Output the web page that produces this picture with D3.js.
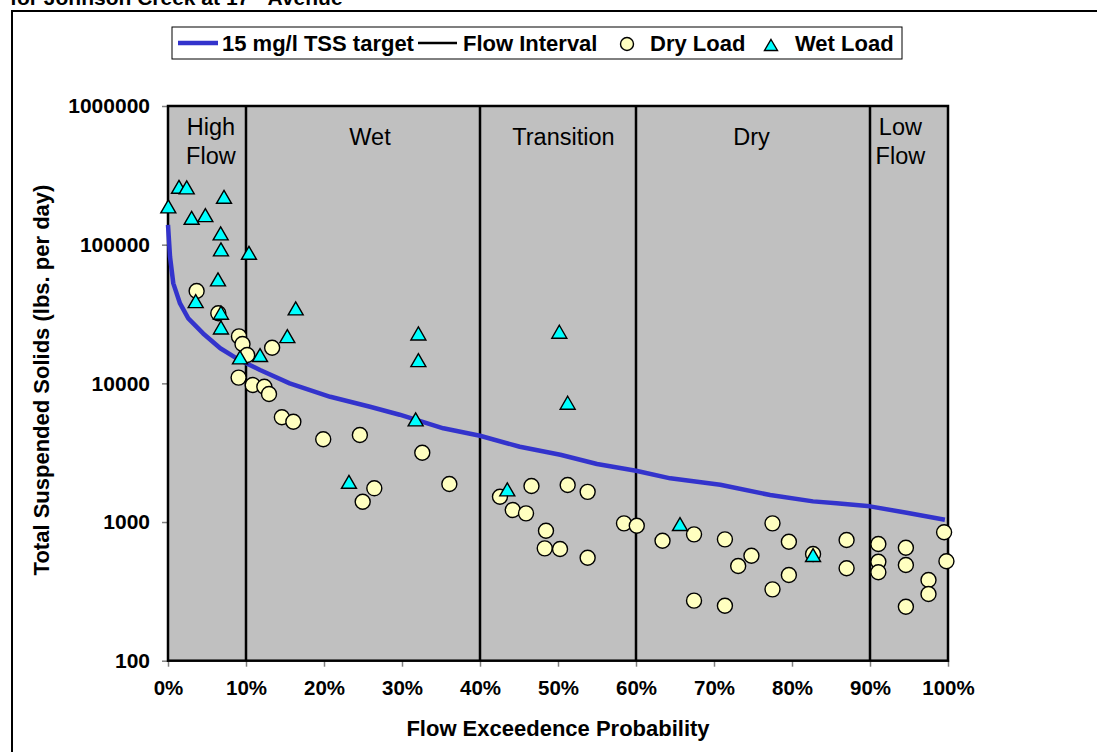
<!DOCTYPE html>
<html>
<head>
<meta charset="utf-8">
<script src="https://cdn.jsdelivr.net/npm/d3@7"></script>
<style>
  html, body { margin: 0; padding: 0; background: #fff; }
  svg { display: block; font-family: Arial, "Liberation Sans", sans-serif; }
</style>
</head>
<body>
<svg id="chart" width="1097" height="752"></svg>
<script>
// ---- Data ----
const targetPct  = [0, 0.26, 0.68, 1.54, 2.6, 4.5, 6.7, 8.8, 10.1, 11.8, 15.6, 20.8, 25.9, 29.7, 35.3, 40, 45.1, 50.3, 55, 60, 64.4, 70.8, 77.2, 82.7, 85.7, 90, 94.7, 99.6];
const targetLoad = [139000, 81800, 52600, 37700, 29400, 22900, 17900, 15150, 13900, 12470, 10000, 8000, 6780, 5940, 4740, 4190, 3490, 3055, 2620, 2345, 2065, 1858, 1565, 1409, 1364, 1297, 1167, 1040];

const dryPct  = [3.67, 6.45, 9.1, 9.55, 10.15, 13.35, 9.05, 10.86, 12.35, 12.95, 14.6, 16.07, 19.9, 24.6, 32.6, 26.45, 24.96, 36.07, 42.56, 44.2, 45.9, 46.6, 51.24, 53.8, 48.46, 48.3, 50.26, 53.8, 58.46, 60.1, 63.4, 67.44, 67.44, 71.4, 71.4, 73.1, 74.8, 77.5, 77.5, 79.6, 79.6, 82.7, 87.0, 87.0, 91.07, 91.07, 91.07, 94.6, 94.6, 94.6, 97.5, 97.5, 99.5, 99.8];
const dryLoad = [46300, 32000, 21800, 19200, 16000, 18070, 11000, 9720, 9450, 8370, 5690, 5290, 3950, 4240, 3160, 1750, 1400, 1880, 1520, 1220, 1155, 1820, 1850, 1650, 865, 646, 639, 553, 978, 940, 733, 815, 271, 750, 249, 482, 571, 978, 327, 721, 415, 588, 742, 464, 694, 517, 434, 653, 490, 245, 382, 303, 843, 521];

const wetPct  = [0.04, 1.41, 2.4, 7.18, 3.03, 4.79, 6.75, 6.79, 10.38, 6.41, 3.55, 6.79, 6.79, 16.37, 15.3, 11.8, 9.23, 32.1, 32.1, 31.75, 23.2, 50.17, 51.24, 43.5, 65.64, 82.7];
const wetLoad = [188800, 261400, 258900, 221500, 156300, 163400, 120600, 92500, 87400, 56200, 39200, 32300, 25300, 34700, 21900, 16000, 15400, 22900, 14700, 5500, 1950, 23550, 7245, 1720, 967, 578];

const intervalBreaks = [10, 40, 60, 90];
const regionLabels = [
  { lines: ["High", "Flow"], pct: 5.5 },
  { lines: ["Wet"], pct: 25.9 },
  { lines: ["Transition"], pct: 50.7 },
  { lines: ["Dry"], pct: 74.8 },
  { lines: ["Low", "Flow"], pct: 93.9 }
];
const yTickValues = [100, 1000, 10000, 100000, 1000000];
const xTickValues = [0, 10, 20, 30, 40, 50, 60, 70, 80, 90, 100];

const titleText = "for Johnson Creek at 17";
const titleSup = "th";
const titleRest = " Avenue";
const yTitle = "Total Suspended Solids (lbs. per day)";
const xTitle = "Flow Exceedence Probability";
const legendLabels = ["15 mg/l TSS target", "Flow Interval", "Dry Load", "Wet Load"];

// ---- Layout ----
const svg = d3.select("#chart");
const plot = { left: 168, right: 948, top: 106, bottom: 660.7 };
const x = d3.scaleLinear().domain([0, 100]).range([plot.left, plot.right]);
const y = d3.scaleLog().domain([100, 1000000]).range([plot.bottom, plot.top]);

const BLUE = "#3333CC", GREY = "#C0C0C0", YEL = "#FFFFC0", CYAN = "#00FFFF";

// outer chart border (partially off-screen)
svg.append("rect").attr("x", 12).attr("y", 11).attr("width", 1200).attr("height", 900)
  .attr("fill", "none").attr("stroke", "#000").attr("stroke-width", 2);

// title (clipped at top)
const tt = svg.append("text").attr("x", 10).attr("y", 5)
  .attr("font-size", 21).attr("font-weight", "bold").attr("fill", "#000");
tt.append("tspan").text(titleText);
tt.append("tspan").attr("dy", -8).attr("font-size", 14).text(titleSup);
tt.append("tspan").attr("dy", 8).text(titleRest);

// plot background
svg.append("rect").attr("x", plot.left).attr("y", plot.top)
  .attr("width", plot.right - plot.left).attr("height", plot.bottom - plot.top)
  .attr("fill", GREY);

// axes
const yAxis = d3.axisLeft(y).tickValues(yTickValues).tickFormat(d3.format("d")).tickSize(6).tickPadding(12);
const gy = svg.append("g").attr("transform", `translate(${plot.left},0)`).call(yAxis);
gy.select(".domain").remove();
gy.selectAll(".tick line").attr("stroke", "#808080").attr("stroke-width", 1.5);
gy.selectAll(".tick text").attr("font-size", 21).attr("font-weight", "bold").attr("fill", "#000")
  .attr("font-family", "Arial, 'Liberation Sans', sans-serif");

const xAxis = d3.axisBottom(x).tickValues(xTickValues).tickFormat(d => d + "%").tickSize(6).tickPadding(14);
const gx = svg.append("g").attr("transform", `translate(0,${plot.bottom})`).call(xAxis);
gx.select(".domain").remove();
gx.selectAll(".tick line").attr("stroke", "#808080").attr("stroke-width", 1.5);
gx.selectAll(".tick text").attr("font-size", 20.5).attr("font-weight", "bold").attr("fill", "#000")
  .attr("font-family", "Arial, 'Liberation Sans', sans-serif");

// interval lines
svg.append("g").selectAll("line").data(intervalBreaks).join("line")
  .attr("x1", d => x(d)).attr("x2", d => x(d))
  .attr("y1", plot.top).attr("y2", plot.bottom)
  .attr("stroke", "#000").attr("stroke-width", 2.5);

// plot border
svg.append("rect").attr("x", plot.left).attr("y", plot.top)
  .attr("width", plot.right - plot.left).attr("height", plot.bottom - plot.top)
  .attr("fill", "none").attr("stroke", "#000").attr("stroke-width", 2.5);

// region labels
const rl = svg.append("g");
regionLabels.forEach(r => {
  const base = r.lines.length === 2 ? 135 : 145;
  r.lines.forEach((ln, i) => {
    rl.append("text").attr("x", x(r.pct)).attr("y", base + i * 28.5)
      .attr("text-anchor", "middle").attr("font-size", 23.5).attr("fill", "#000").text(ln);
  });
});

// target curve
const targetData = targetPct.map((p, i) => [p, targetLoad[i]]);
svg.append("path").datum(targetData)
  .attr("d", d3.line().x(d => x(d[0])).y(d => y(d[1])))
  .attr("fill", "none").attr("stroke", BLUE).attr("stroke-width", 4.5).attr("stroke-linejoin", "round");

// dry load circles
svg.append("g").selectAll("circle").data(dryPct.map((p, i) => [p, dryLoad[i]])).join("circle")
  .attr("cx", d => x(d[0])).attr("cy", d => y(d[1])).attr("r", 7.5)
  .attr("fill", YEL).attr("stroke", "#000").attr("stroke-width", 1.4);

// wet load triangles
const tri = (cx, cy, w, h) => `M${cx},${cy - h / 2}L${cx + w / 2},${cy + h / 2}L${cx - w / 2},${cy + h / 2}Z`;
svg.append("g").selectAll("path").data(wetPct.map((p, i) => [p, wetLoad[i]])).join("path")
  .attr("d", d => tri(x(d[0]), y(d[1]), 15, 13))
  .attr("fill", CYAN).attr("stroke", "#000").attr("stroke-width", 1.4).attr("stroke-linejoin", "miter");

// axis titles
svg.append("text").attr("x", 558).attr("y", 736).attr("text-anchor", "middle")
  .attr("font-size", 22).attr("font-weight", "bold").text(xTitle);
svg.append("text").attr("transform", "translate(49,380) rotate(-90)").attr("text-anchor", "middle")
  .attr("font-size", 22).attr("font-weight", "bold").text(yTitle);

// legend
const lg = svg.append("g");
lg.append("rect").attr("x", 172).attr("y", 27).attr("width", 730).attr("height", 32)
  .attr("fill", "#fff").attr("stroke", "#000").attr("stroke-width", 1);
const ly = 43;
lg.append("line").attr("x1", 178).attr("x2", 218).attr("y1", ly).attr("y2", ly)
  .attr("stroke", BLUE).attr("stroke-width", 4.5);
lg.append("text").attr("x", 222).attr("y", ly + 8).attr("font-size", 22).attr("font-weight", "bold").text(legendLabels[0]);
lg.append("line").attr("x1", 418).attr("x2", 457).attr("y1", ly).attr("y2", ly)
  .attr("stroke", "#000").attr("stroke-width", 2.5);
lg.append("text").attr("x", 463).attr("y", ly + 8).attr("font-size", 22).attr("font-weight", "bold").text(legendLabels[1]);
lg.append("circle").attr("cx", 627).attr("cy", ly + 1).attr("r", 6.5)
  .attr("fill", YEL).attr("stroke", "#000").attr("stroke-width", 1.4);
lg.append("text").attr("x", 650).attr("y", ly + 8).attr("font-size", 22).attr("font-weight", "bold").text(legendLabels[2]);
lg.append("path").attr("d", tri(771, ly + 2, 13, 11))
  .attr("fill", CYAN).attr("stroke", "#000").attr("stroke-width", 1.4);
lg.append("text").attr("x", 795).attr("y", ly + 8).attr("font-size", 22).attr("font-weight", "bold").text(legendLabels[3]);
</script>
</body>
</html>
